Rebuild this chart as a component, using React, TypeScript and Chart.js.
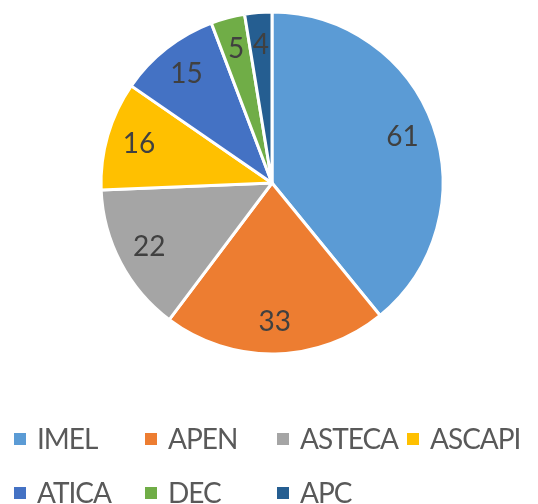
import React, { useEffect, useRef } from "react";
import { Chart, registerables } from "chart.js";

Chart.register(...registerables);

const categories = ["IMEL", "APEN", "ASTECA", "ASCAPI", "ATICA", "DEC", "APC"];
const values = [61, 33, 22, 16, 15, 5, 4];
const colors = ["#5B9BD5", "#ED7D31", "#A5A5A5", "#FFC000", "#4472C4", "#70AD47", "#255E91"];

const FONT = "Lato, 'Open Sans', sans-serif";

const labelPlugin = {
  id: "sliceLabels",
  afterDatasetsDraw(chart: any) {
    const ctx = chart.ctx;
    const meta = chart.getDatasetMeta(0);
    ctx.save();
    ctx.fillStyle = "#404040";
    ctx.font = `28px ${FONT}`;
    ctx.textAlign = "center";
    ctx.textBaseline = "middle";
    meta.data.forEach((arc: any, i: number) => {
      const { x, y, startAngle, endAngle, outerRadius } = arc.getProps(
        ["x", "y", "startAngle", "endAngle", "outerRadius"],
        true
      );
      const mid = (startAngle + endAngle) / 2;
      const r = outerRadius * 0.81;
      ctx.fillText(String(values[i]), x + Math.cos(mid) * r, y + Math.sin(mid) * r);
    });
    ctx.restore();
  },
};

const legendPlugin = {
  id: "gridLegend",
  afterDraw(chart: any) {
    const ctx = chart.ctx;
    const colX = [14, 145, 277, 407];
    const rowBoxY = [433, 487];
    const rowBase = [449, 503];
    ctx.save();
    ctx.font = `28px ${FONT}`;
    ctx.textAlign = "left";
    ctx.textBaseline = "alphabetic";
    try {
      (ctx as any).letterSpacing = "-1px";
    } catch (e) {}
    categories.forEach((c, i) => {
      const col = i % 4;
      const row = Math.floor(i / 4);
      ctx.fillStyle = colors[i];
      ctx.fillRect(colX[col], rowBoxY[row], 12, 12);
      ctx.fillStyle = "#595959";
      ctx.fillText(c, colX[col] + 23, rowBase[row]);
    });
    ctx.restore();
  },
};

export default function App() {
  const ref = useRef<HTMLCanvasElement>(null);
  useEffect(() => {
    if (!ref.current) return;
    const chart = new Chart(ref.current, {
      type: "pie",
      data: {
        labels: categories,
        datasets: [
          {
            data: values,
            backgroundColor: colors,
            borderColor: "#ffffff",
            borderWidth: 3,
          },
        ],
      },
      options: {
        responsive: false,
        animation: false,
        radius: 171,
        layout: { padding: { top: 12, bottom: 150, left: 101, right: 95 } },
        plugins: {
          legend: { display: false },
          tooltip: { enabled: false },
        },
      } as any,
      plugins: [labelPlugin, legendPlugin],
    });
    return () => chart.destroy();
  }, []);
  return (
    <div style={{ position: "fixed", left: 0, top: 0, width: 538, height: 504, background: "#fff" }}>
      <canvas ref={ref} width={538} height={504} style={{ width: 538, height: 504 }} />
    </div>
  );
}
